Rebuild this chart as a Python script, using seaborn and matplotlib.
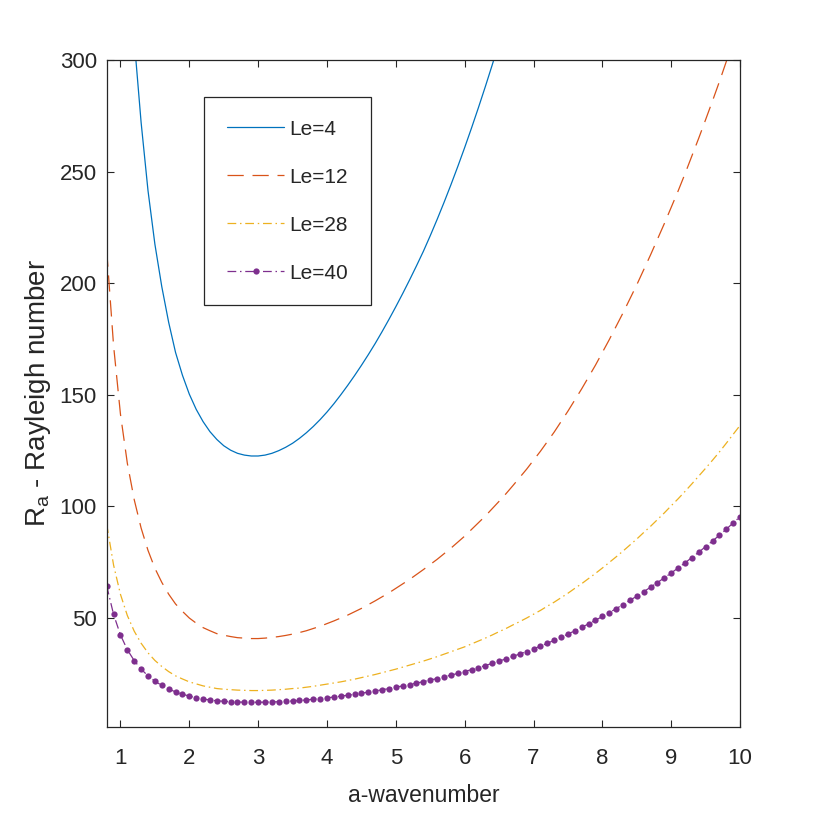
# Critical Rayleigh number vs wavenumber for several Lewis numbers
import numpy as np
import pandas as pd
import matplotlib
matplotlib.use("Agg")
import matplotlib.pyplot as plt
import seaborn as sns

# -------------------------------
# Data
# -------------------------------

# wavenumber grid, a = 0.8 ... 10.0 step 0.1
a_grid = np.round(np.arange(8, 101) / 10.0, 1)

# Le = 4, a = 1.2 ... 6.5
le4 = [309, 272, 241.5, 217.5, 198.5, 182.5, 169, 158.8, 150.3, 143.5,
       138, 133.5, 130, 127.2, 125.2, 123.8, 123, 122.6, 122.6, 123,
       123.8, 125, 126.5, 128.3, 130.5, 133, 135.8, 138.9, 142.3, 146,
       150, 154.2, 158.6, 163.2, 168, 173, 178.3, 183.8, 189.5, 195.4,
       201.5, 207.8, 214.3, 221.3, 228.6, 236.2, 244.1, 252.3, 260.8, 269.6,
       278.7, 288.1, 297.8, 307.8]

# Le = 12, a = 0.8 ... 9.9
le12 = [214.7, 172, 141.3, 119.3, 103, 90.3, 80.3, 72.3, 66, 60.7,
        56.3, 53, 50, 47.7, 45.7, 44.3, 43, 42.3, 41.7, 41.2,
        41, 40.8, 40.8, 41, 41.3, 41.7, 42.2, 42.8, 43.5, 44.3,
        45.3, 46.3, 47.5, 48.7, 50, 51.3, 52.8, 54.3, 56, 57.7,
        59.5, 61.3, 63.3, 65.3, 67.3, 69.5, 71.7, 74, 76.3, 78.8,
        81.3, 84, 86.7, 89.7, 92.7, 95.7, 99, 102.3, 105.7, 109.3,
        113, 116.7, 120.7, 124.7, 129, 133.3, 138, 142.7, 147.7, 152.7,
        158, 163.3, 169, 174.7, 180.7, 186.7, 193, 199.3, 206, 212.7,
        219.7, 226.7, 234, 241.3, 249, 257, 265, 273.3, 281.7, 290.3,
        299.3, 308.7]

# Le = 28, a = 0.8 ... 10.0
le28 = [92, 73.7, 60.6, 51.1, 44.1, 38.7, 34.4, 31, 28.3, 26,
        24.1, 22.7, 21.4, 20.5, 19.6, 19, 18.4, 18.1, 17.9, 17.7,
        17.6, 17.5, 17.5, 17.6, 17.7, 17.9, 18.1, 18.4, 18.6, 19,
        19.4, 19.9, 20.4, 20.9, 21.4, 22, 22.6, 23.3, 24, 24.7,
        25.5, 26.3, 27.1, 28, 28.9, 29.8, 30.7, 31.7, 32.7, 33.8,
        34.9, 36, 37.1, 38.4, 39.7, 41, 42.4, 43.9, 45.3, 46.9,
        48.4, 50, 51.7, 53.4, 55.3, 57.1, 59.1, 61.1, 63.3, 65.4,
        67.7, 70, 72.4, 74.9, 77.4, 80, 82.7, 85.4, 88.3, 91.1,
        94.1, 97.1, 100.3, 103.4, 106.7, 110.1, 113.6, 117.1, 120.7, 124.4,
        128.3, 132.3, 136.3]

# Le = 40, a = 0.8 ... 10.0
le40 = [64.4, 51.6, 42.4, 35.8, 30.9, 27.1, 24.1, 21.7, 19.8, 18.2,
        16.9, 15.9, 15.0, 14.3, 13.7, 13.3, 12.9, 12.7, 12.5, 12.35,
        12.3, 12.25, 12.25, 12.3, 12.4, 12.5, 12.65, 12.85, 13.05, 13.3,
        13.6, 13.9, 14.25, 14.6, 15.0, 15.4, 15.85, 16.3, 16.8, 17.3,
        17.85, 18.4, 19.0, 19.6, 20.2, 20.85, 21.5, 22.2, 22.9, 23.65,
        24.4, 25.2, 26.0, 26.9, 27.8, 28.7, 29.7, 30.7, 31.7, 32.8,
        33.9, 35.0, 36.2, 37.4, 38.7, 40.0, 41.4, 42.8, 44.3, 45.8,
        47.4, 49.0, 50.7, 52.4, 54.2, 56.0, 57.9, 59.8, 61.8, 63.8,
        65.9, 68.0, 70.2, 72.4, 74.7, 77.1, 79.5, 82.0, 84.5, 87.1,
        89.8, 92.6, 95.4]

curves = [
    ("Le=4", a_grid[4:58], le4),
    ("Le=12", a_grid[:92], le12),
    ("Le=28", a_grid, le28),
    ("Le=40", a_grid, le40),
]

x_ticks = [1, 2, 3, 4, 5, 6, 7, 8, 9, 10]
y_ticks = [50, 100, 150, 200, 250, 300]

# -------------------------------
# Style
# -------------------------------

sns.set_style("ticks")
plt.rcParams["font.family"] = ["Liberation Sans Narrow", "Liberation Sans", "DejaVu Sans"]
plt.rcParams["mathtext.fontset"] = "custom"
plt.rcParams["mathtext.rm"] = "Liberation Sans"

colors = {"Le=4": "#0072BD", "Le=12": "#D95319", "Le=28": "#EDB120", "Le=40": "#7E2F8E"}
styles = {
    "Le=4": dict(linestyle="-"),
    "Le=12": dict(linestyle=(0, (13, 7))),
    "Le=28": dict(linestyle=(0, (7, 3, 1.2, 3))),
    "Le=40": dict(linestyle=(0, (7, 3, 1.2, 3)), marker="o", markersize=4.5,
                  markeredgewidth=0),
}

# -------------------------------
# Plot
# -------------------------------

fig = plt.figure(figsize=(8.17, 8.17), dpi=100)
ax = fig.add_axes([0.1306, 0.1105, 0.7752, 0.8160])

for name, a_vals, r_vals in curves:
    df = pd.DataFrame({"a": a_vals, "R": r_vals})
    sns.lineplot(data=df, x="a", y="R", ax=ax, color=colors[name], lw=0.9,
                 label=name, sort=False, estimator=None, errorbar=None,
                 **styles[name])

ax.set_xlim(0.8, 10)
ax.set_ylim(1.3, 300)
ax.set_xticks(x_ticks)
ax.set_yticks(y_ticks)

ax.tick_params(direction="in", length=5, width=0.8, top=True, right=True,
               labelsize=16, colors="#262626")
ax.tick_params(axis="x", pad=15)
ax.tick_params(axis="y", pad=7)
for side in ["left", "right", "top", "bottom"]:
    ax.spines[side].set_visible(True)
    ax.spines[side].set_linewidth(0.9)
    ax.spines[side].set_color("#262626")

ax.set_xlabel("a-wavenumber", fontsize=16.5, color="#262626", labelpad=11)
ax.set_ylabel(r"R$_{\mathregular{a}}$ - Rayleigh number", fontsize=20,
              family=["Liberation Sans", "DejaVu Sans"], color="#262626",
              labelpad=5)

leg = ax.legend(loc="upper left", bbox_to_anchor=(0.154, 0.945),
                borderaxespad=0, frameon=True, fancybox=False, framealpha=1,
                edgecolor="#262626", fontsize=15, handlelength=2.75,
                handletextpad=0.25, labelspacing=1.39, borderpad=1.1)
leg.get_frame().set_linewidth(0.9)

fig.savefig("out.png", dpi=100, facecolor="white")
